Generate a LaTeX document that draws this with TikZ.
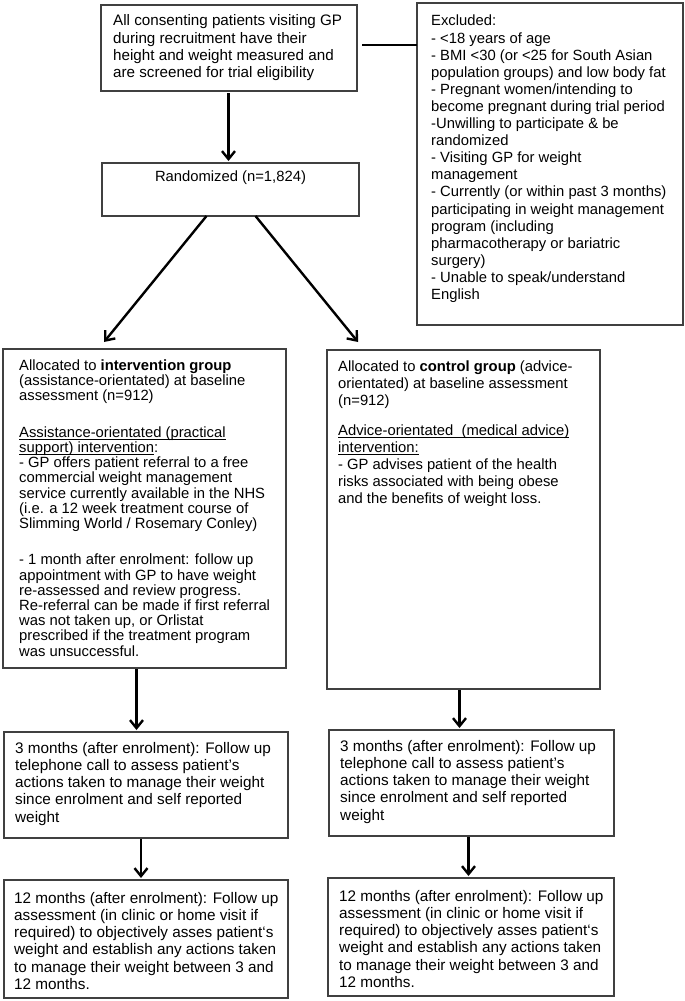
\documentclass[tikz,border=0pt]{standalone}
\usepackage{fontspec}
\setmainfont{Liberation Sans}
\usetikzlibrary{arrows.meta}
\newcommand\myul[1]{\setbox0\hbox{#1}\rlap{\rule[-2.3pt]{\wd0}{0.8pt}}\box0}
\begin{document}
\begin{tikzpicture}[x=1pt,y=-1pt,
  box/.style={draw=black!75,line width=1.1pt,anchor=north west,inner sep=0pt,outer sep=0pt},
  txt/.style={anchor=north west,inner sep=0pt,align=left,font=\fontsize{14.8}{17.3}\selectfont},
  btxt/.style={anchor=north west,inner sep=0pt,align=left,font=\fontsize{15.3}{17.2}\selectfont},
  arr/.style={line width=2.4pt,-{Straight Barb[length=8pt,width=13pt]}},
  link/.style={line width=2.4pt}]
\useasboundingbox[fill=white] (0,0) rectangle (685,1001);

% boxes
\node[box,minimum width=256pt,minimum height=86pt] (top) at (101,5) {};
\node[box,minimum width=257pt,minimum height=53pt] (rand) at (102,163) {};
\node[box,minimum width=266pt,minimum height=322pt] (excl) at (417,3) {};
\node[box,minimum width=283pt,minimum height=319pt] (int) at (3,349) {};
\node[box,minimum width=273pt,minimum height=339pt] (ctl) at (327,350) {};
\node[box,minimum width=284pt,minimum height=106pt] (t3L) at (4,732) {};
\node[box,minimum width=284pt,minimum height=118pt] (t12L) at (4,880) {};
\node[box,minimum width=285pt,minimum height=106pt] (t3R) at (329,730) {};
\node[box,minimum width=286pt,minimum height=118pt] (t12R) at (328,878) {};

% texts
\node[txt,font=\fontsize{15.2}{17.3}\selectfont] (toptxt) at ([xshift=12pt,yshift=-9.5pt]top.north west)
 {All consenting patients visiting GP\\ during recruitment have their\\ height and weight measured and\\ are screened for trial eligibility};
\node[txt,anchor=north] (randtxt) at ([yshift=-8pt]rand.north) {Randomized (n=1,824)};
\node[txt,font=\fontsize{14.8}{17.1}\selectfont] (excltxt) at ([xshift=14pt,yshift=-12pt]excl.north west)
 {Excluded:\\
- <18 years of age\\
- BMI <30 (or <25 for South Asian\\
population groups) and low body fat\\
- Pregnant women/intending to\\
become pregnant during trial period\\
-Unwilling to participate \& be\\
randomized\\
- Visiting GP for weight\\
management\\
- Currently (or within past 3 months)\\
participating in weight management\\
program (including\\
pharmacotherapy or bariatric\\
surgery)\\
- Unable to speak/understand\\
English};
\node[txt,font=\fontsize{14.8}{15.2}\selectfont] (inttxt) at ([xshift=16pt,yshift=-10.5pt]int.north west)
 {Allocated to \textbf{intervention group}\\
(assistance-orientated) at baseline\\
assessment (n=912)\\[21.2pt]
\myul{Assistance-orientated (practical}\\
\myul{support) intervention}:\\
- GP offers patient referral to a free\\
commercial weight management\\
service currently available in the NHS\\
(i.e. a 12 week treatment course of\\
Slimming World / Rosemary Conley)\\[21.2pt]
- 1 month after enrolment: follow up\\
appointment with GP to have weight\\
re-assessed and review progress.\\
Re-referral can be made if first referral\\
was not taken up, or Orlistat\\
prescribed if the treatment program\\
was unsuccessful.};
\node[txt,font=\fontsize{14.8}{17}\selectfont] (ctltxt) at ([xshift=11pt,yshift=-10.5pt]ctl.north west)
 {Allocated to \textbf{control group} (advice-\\
orientated) at baseline assessment\\
(n=912)\\[13pt]
\myul{Advice-orientated\ \ (medical advice)}\\
\myul{intervention:}\\
- GP advises patient of the health\\
risks associated with being obese\\
and the benefits of weight loss.};
\node[btxt] (t3Ltxt) at ([xshift=11pt,yshift=-10pt]t3L.north west)
 {3 months (after enrolment): Follow up\\
telephone call to assess patient’s\\
actions taken to manage their weight\\
since enrolment and self reported\\
weight};
\node[btxt] (t12Ltxt) at ([xshift=10pt,yshift=-12pt]t12L.north west)
 {12 months (after enrolment): Follow up\\
assessment (in clinic or home visit if\\
required) to objectively asses patient‘s\\
weight and establish any actions taken\\
to manage their weight between 3 and\\
12 months.};
\node[btxt] (t3Rtxt) at ([xshift=11pt,yshift=-10pt]t3R.north west)
 {3 months (after enrolment): Follow up\\
telephone call to assess patient’s\\
actions taken to manage their weight\\
since enrolment and self reported\\
weight};
\node[btxt] (t12Rtxt) at ([xshift=11pt,yshift=-12pt]t12R.north west)
 {12 months (after enrolment): Follow up\\
assessment (in clinic or home visit if\\
required) to objectively asses patient‘s\\
weight and establish any actions taken\\
to manage their weight between 3 and\\
12 months.};

% connectors
\draw[link,shorten <=5pt] ([yshift=-40pt]top.north east) -- ([yshift=-40pt]top.north east -| excl.west);
\draw[arr,shorten <=2pt,shorten >=2pt] ([xshift=-0.5pt]top.south) -- ([xshift=-0.5pt]top.south |- rand.north);
\draw[arr,shorten <=0pt] ([xshift=-24pt]rand.south) -- ([xshift=101pt,yshift=7pt]int.north west);
\draw[arr] ([xshift=25pt]rand.south) -- ([xshift=31pt,yshift=8pt]ctl.north west);
\draw[arr,shorten <=1pt,shorten >=2pt] ([xshift=-8pt]int.south) -- ([xshift=-8pt]int.south |- t3L.north);
\draw[arr,shorten <=1pt,shorten >=2pt] ([xshift=-4pt]ctl.south) -- ([xshift=-4pt]ctl.south |- t3R.north);
\draw[arr,shorten <=1pt,shorten >=2pt] ([xshift=-5pt]t3L.south) -- ([xshift=-5pt]t3L.south |- t12L.north);
\draw[arr,shorten <=1pt,shorten >=2pt] ([xshift=-3pt]t3R.south) -- ([xshift=-3pt]t3R.south |- t12R.north);
\end{tikzpicture}
\end{document}
